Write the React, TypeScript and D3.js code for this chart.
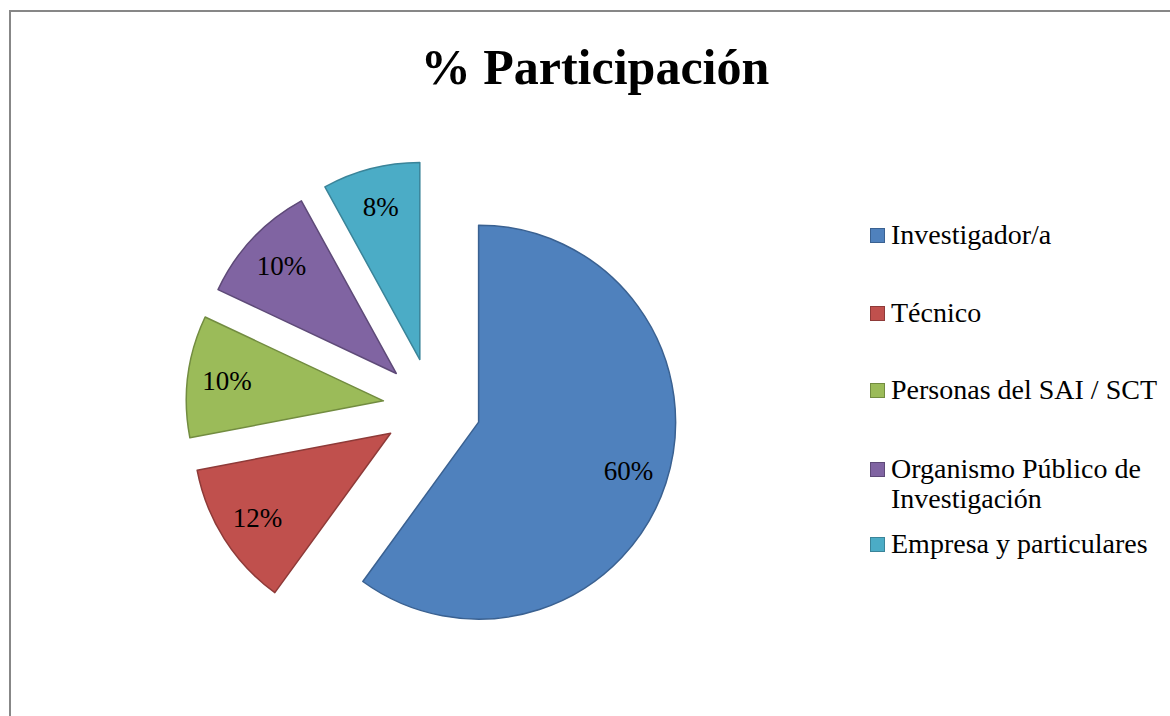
import React from "react";
import * as d3 from "d3";

const title = "% Participación";
const categories = [
  "Investigador/a",
  "Técnico",
  "Personas del SAI / SCT",
  "Organismo Público de Investigación",
  "Empresa y particulares",
];
const values = [60, 12, 10, 10, 8];
const legendLines = [
  ["Investigador/a"],
  ["Técnico"],
  ["Personas del SAI / SCT"],
  ["Organismo Público de", "Investigación"],
  ["Empresa y particulares"],
];
const fills = ["#4F81BD", "#C0504D", "#9BBB59", "#8064A2", "#4BACC6"];
const strokes = ["#3A6191", "#8E3A38", "#728C40", "#5E4A78", "#3A8499"];

const W = 1170;
const H = 716;
const cx = 432;
const cy = 407;
const R = 197;
const explode = 49;
const legendBaselines = [244, 322, 399, 478, 553];

export default function App() {
  const pie = d3.pie<number>().sort(null).value((d) => d).startAngle(0);
  const arcs = pie(values);
  const arc = d3.arc<d3.PieArcDatum<number>>().innerRadius(0).outerRadius(R);
  const labelArc = d3
    .arc<d3.PieArcDatum<number>>()
    .innerRadius(R * 0.8)
    .outerRadius(R * 0.8);
  const total = d3.sum(values);
  const fmt = (v: number) => `${Math.round((v / total) * 100)}%`;

  return (
    <div style={{ position: "fixed", left: 0, top: 0, width: W, height: H, background: "#fff" }}>
      <svg width={W} height={H} style={{ display: "block" }}>
        <rect x={0} y={0} width={W} height={H} fill="#fff" />
        <path d={`M10,${H} L10,11 L${W},11`} fill="none" stroke="#878787" strokeWidth={2} />
        <text
          x={595}
          y={84}
          textAnchor="middle"
          fontFamily="'Liberation Serif', serif"
          fontWeight="bold"
          fontSize={50}
          fill="#000"
        >
          {title}
        </text>
        <g transform={`translate(${cx},${cy})`}>
          {arcs.map((a, i) => {
            const mid = (a.startAngle + a.endAngle) / 2;
            const dx = explode * Math.sin(mid);
            const dy = -explode * Math.cos(mid);
            const [lx, ly] = labelArc.centroid(a);
            return (
              <g key={i} transform={`translate(${dx},${dy})`}>
                <path d={arc(a) || ""} fill={fills[i]} stroke={strokes[i]} strokeWidth={1.5} strokeLinejoin="round" />
                <text
                  x={lx}
                  y={ly}
                  textAnchor="middle"
                  dominantBaseline="central"
                  fontFamily="'Liberation Serif', serif"
                  fontSize={27}
                  fill="#000"
                >
                  {fmt(a.data)}
                </text>
              </g>
            );
          })}
        </g>
        <g>
          {categories.map((c, i) => (
            <g key={c}>
              <rect
                x={870.5}
                y={legendBaselines[i] - 15.5}
                width={14}
                height={14}
                fill={fills[i]}
                stroke={strokes[i]}
                strokeWidth={1}
              />
              {legendLines[i].map((line, j) => (
                <text
                  key={j}
                  x={891}
                  y={legendBaselines[i] + j * 30}
                  fontFamily="'Liberation Serif', serif"
                  fontSize={28}
                  fill="#000"
                >
                  {line}
                </text>
              ))}
            </g>
          ))}
        </g>
      </svg>
    </div>
  );
}
